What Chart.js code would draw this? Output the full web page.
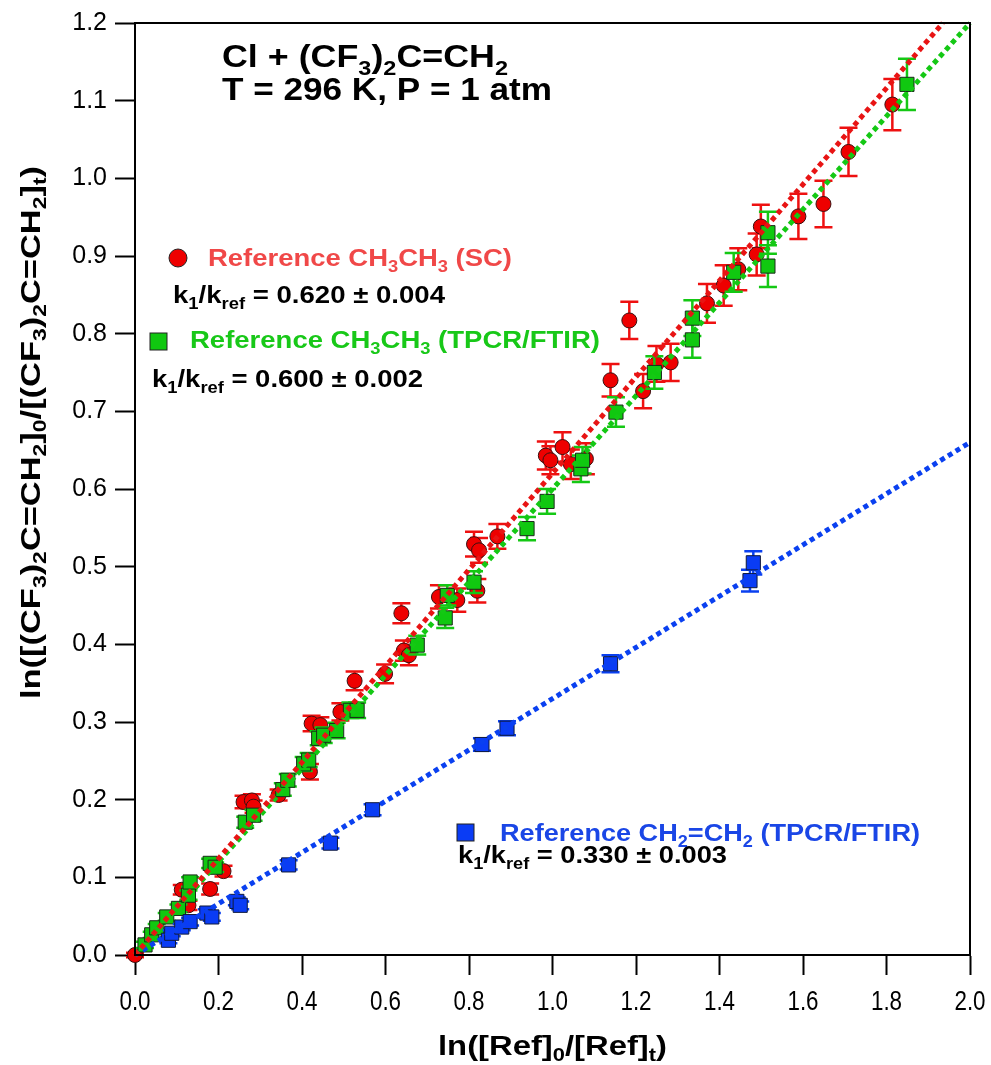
<!DOCTYPE html>
<html>
<head>
<meta charset="utf-8">
<script src="https://cdn.jsdelivr.net/npm/chart.js@4.4.0/dist/chart.umd.min.js"></script>
<style>
  body { margin: 0; background: #fff; }
  #wrap { width: 991px; height: 1065px; }
</style>
</head>
<body>
<div id="wrap"><canvas id="myChart"></canvas></div>
<script>
// Reference CH3CH3 (SC)
let redX = [0.000, 0.112, 0.128, 0.180, 0.212, 0.260, 0.280, 0.284, 0.344, 0.419, 0.423, 0.444, 0.492, 0.526, 0.599,
    0.638, 0.644, 0.656, 0.728, 0.772, 0.812, 0.824, 0.820, 0.868, 0.984, 0.995, 1.024, 1.044, 1.080, 1.139,
    1.184, 1.217, 1.249, 1.283, 1.370, 1.410, 1.445, 1.489, 1.499, 1.589, 1.649, 1.709, 1.814]
let redY = [0.000, 0.084, 0.064, 0.085, 0.108, 0.197, 0.199, 0.191, 0.206, 0.236, 0.298, 0.296, 0.313, 0.353, 0.362,
    0.440, 0.392, 0.386, 0.461, 0.457, 0.529, 0.521, 0.469, 0.539, 0.643, 0.637, 0.654, 0.632, 0.639, 0.740,
    0.817, 0.726, 0.761, 0.763, 0.839, 0.862, 0.883, 0.902, 0.938, 0.951, 0.967, 1.034, 1.095]
let redErr = [0.003, 0.006, 0.006, 0.007, 0.007, 0.008, 0.008, 0.008, 0.007, 0.010, 0.010, 0.010, 0.011, 0.012, 0.012,
    0.013, 0.013, 0.013, 0.015, 0.015, 0.016, 0.016, 0.015, 0.016, 0.018, 0.018, 0.019, 0.019, 0.020, 0.021,
    0.024, 0.022, 0.023, 0.024, 0.025, 0.026, 0.027, 0.027, 0.028, 0.029, 0.030, 0.031, 0.033]

// Reference CH3CH3 (TPCR/FTIR)
let greenX = [0.024, 0.040, 0.052, 0.076, 0.104, 0.128, 0.132, 0.180, 0.192, 0.264, 0.284, 0.354, 0.366, 0.404, 0.416,
    0.440, 0.452, 0.483, 0.516, 0.532, 0.676, 0.743, 0.748, 0.812, 0.939, 0.987, 1.068, 1.072, 1.152, 1.244,
    1.335, 1.335, 1.434, 1.516, 1.516, 1.849]
let greenY = [0.013, 0.026, 0.035, 0.049, 0.060, 0.077, 0.094, 0.118, 0.113, 0.171, 0.180, 0.213, 0.225, 0.246, 0.251,
    0.279, 0.283, 0.289, 0.315, 0.315, 0.399, 0.434, 0.463, 0.480, 0.549, 0.584, 0.626, 0.637, 0.699, 0.750,
    0.792, 0.820, 0.879, 0.887, 0.930, 1.121]
let greenErr = [0.004, 0.004, 0.005, 0.005, 0.005, 0.006, 0.006, 0.006, 0.006, 0.007, 0.007, 0.008, 0.008, 0.009, 0.009,
    0.009, 0.010, 0.010, 0.010, 0.010, 0.012, 0.013, 0.013, 0.014, 0.015, 0.016, 0.017, 0.017, 0.019, 0.021,
    0.023, 0.023, 0.025, 0.027, 0.027, 0.033]

// Reference CH2=CH2 (TPCR/FTIR)
let blueX = [0.080, 0.088, 0.112, 0.132, 0.172, 0.184, 0.244, 0.252, 0.368, 0.468, 0.569, 0.831, 0.891, 1.139, 1.473, 1.481]
let blueY = [0.019, 0.028, 0.036, 0.043, 0.054, 0.049, 0.069, 0.064, 0.116, 0.144, 0.187, 0.271, 0.292, 0.375, 0.482, 0.505]
let blueErr = [0.004, 0.004, 0.004, 0.005, 0.005, 0.005, 0.005, 0.005, 0.006, 0.007, 0.007, 0.008, 0.009, 0.011, 0.014, 0.015]

// fitted lines (end points)
let redFitX = [0, 1.935]
let redFitY = [0, 1.2]
let greenFitX = [0, 2.0]
let greenFitY = [0, 1.2]
let blueFitX = [0, 2.0]
let blueFitY = [0, 0.66]

let corVermelho = '#ee0000'
let corVerde = '#10c810'
let corAzul = '#0a3cf5'
let fonte = "'Liberation Sans', Arial, sans-serif"

function pontos(xs, ys) {
    return xs.map((x, i) => ({ x: x, y: ys[i] }))
}

function linhaFit(xs, ys, cor) {
    return {
        type: 'line',
        data: pontos(xs, ys),
        borderColor: cor,
        borderWidth: 5,
        borderDash: [5, 4],
        borderCapStyle: 'butt',
        pointRadius: 0,
        fill: false,
        tension: 0,
        order: 0
    }
}

// texto com subscritos: "CH_{3}"
function partes(txt) {
    let out = []
    let re = /_\{([^}]*)\}/g
    let last = 0, m
    while ((m = re.exec(txt)) !== null) {
        if (m.index > last) out.push([txt.slice(last, m.index), false])
        out.push([m[1], true])
        last = re.lastIndex
    }
    if (last < txt.length) out.push([txt.slice(last), false])
    return out
}

function textoRico(ctx, txt, x, y, size, largura, cor, rodar) {
    let ps = partes(txt)
    let sub = Math.round(size * 0.66)
    let w = 0
    ps.forEach(p => {
        ctx.font = 'bold ' + (p[1] ? sub : size) + 'px ' + fonte
        w += ctx.measureText(p[0]).width
    })
    ctx.save()
    ctx.translate(x, y)
    if (rodar) ctx.rotate(-Math.PI / 2)
    ctx.scale(largura / w, 1)
    ctx.fillStyle = cor
    ctx.textBaseline = 'alphabetic'
    ctx.textAlign = 'left'
    let cx = 0
    ps.forEach(p => {
        ctx.font = 'bold ' + (p[1] ? sub : size) + 'px ' + fonte
        ctx.fillText(p[0], cx, p[1] ? size * 0.24 : 0)
        cx += ctx.measureText(p[0]).width
    })
    ctx.restore()
}

let textos = [
    ['Cl + (CF_{3})_{2}C=CH_{2}', 222, 67, 32, 286, '#000'],
    ['T = 296 K, P = 1 atm', 222, 100, 32, 330, '#000'],
    ['Reference CH_{3}CH_{3} (SC)', 208, 266, 24, 304, '#f04848'],
    ['k_{1}/k_{ref} = 0.620 \u00b1 0.004', 173, 303, 24, 272, '#000'],
    ['Reference CH_{3}CH_{3} (TPCR/FTIR)', 190, 348, 24, 410, '#18c818'],
    ['k_{1}/k_{ref} = 0.600 \u00b1 0.002', 152, 387, 24, 271, '#000'],
    ['Reference CH_{2}=CH_{2} (TPCR/FTIR)', 500, 841, 24, 420, '#1a46e6'],
    ['k_{1}/k_{ref} = 0.330 \u00b1 0.003', 458, 863, 24, 269, '#000'],
    ['ln([Ref]_{0}/[Ref]_{t})', 438, 1055, 27, 229, '#000']
]

const barrasErro = {
    id: 'barrasErro',
    beforeDatasetDraw(chart, args) {
        let ds = chart.data.datasets[args.index]
        if (!ds.erros) return
        let ctx = chart.ctx
        let sx = chart.scales.x, sy = chart.scales.y
        ctx.save()
        ctx.strokeStyle = ds.corErro
        ctx.lineWidth = 2.5
        ds.data.forEach((p, i) => {
            let px = sx.getPixelForValue(p.x)
            let y1 = sy.getPixelForValue(p.y + ds.erros[i])
            let y2 = sy.getPixelForValue(p.y - ds.erros[i])
            ctx.beginPath()
            ctx.moveTo(px, y1); ctx.lineTo(px, y2)
            ctx.moveTo(px - 9, y1); ctx.lineTo(px + 9, y1)
            ctx.moveTo(px - 9, y2); ctx.lineTo(px + 9, y2)
            ctx.stroke()
        })
        ctx.restore()
    }
}

const anotacoes = {
    id: 'anotacoes',
    afterDraw(chart) {
        let ctx = chart.ctx
        let a = chart.chartArea
        ctx.save()
        ctx.strokeStyle = '#000'
        ctx.lineWidth = 2
        ctx.strokeRect(a.left, a.top, a.right - a.left, a.bottom - a.top)

        // rótulos do eixo x, um pouco estreitos como no original
        let sx = chart.scales.x
        ctx.fillStyle = '#000'
        ctx.font = '28px ' + fonte
        ctx.textAlign = 'center'
        ctx.textBaseline = 'middle'
        sx.ticks.forEach(t => {
            ctx.save()
            ctx.translate(sx.getPixelForValue(t.value), a.bottom + 47)
            ctx.scale(0.8, 1)
            ctx.fillText(t.value.toFixed(1), 0, 0)
            ctx.restore()
        })

        // marcadores da legenda
        ctx.lineWidth = 1
        ctx.strokeStyle = '#222'
        ctx.fillStyle = corVermelho
        ctx.beginPath(); ctx.arc(178, 258, 9, 0, Math.PI * 2); ctx.fill(); ctx.stroke()
        ctx.fillStyle = corVerde
        ctx.fillRect(150, 333, 17, 17); ctx.strokeRect(150, 333, 17, 17)
        ctx.fillStyle = corAzul
        ctx.fillRect(457, 824, 17, 17); ctx.strokeRect(457, 824, 17, 17)
        ctx.restore()

        textos.forEach(t => textoRico(ctx, t[0], t[1], t[2], t[3], t[4], t[5], false))
        textoRico(ctx, 'ln([(CF_{3})_{2}C=CH_{2}]_{0}/[(CF_{3})_{2}C=CH_{2}]_{t})', 40, 699, 27, 533, '#000', true)
    }
}

const ctx = document.getElementById('myChart').getContext('2d')
let myChart = new Chart(ctx, {
    type: 'scatter',
    data: {
        datasets: [
            linhaFit(redFitX, redFitY, '#e81414'),
            linhaFit(greenFitX, greenFitY, '#14c814'),
            linhaFit(blueFitX, blueFitY, '#0a40f0'),
            {
                label: 'Reference CH3CH3 (SC)',
                data: pontos(redX, redY),
                erros: redErr,
                corErro: '#ee1010',
                pointStyle: 'circle',
                pointRadius: 7.5,
                backgroundColor: corVermelho,
                borderColor: '#3a1010',
                borderWidth: 1,
                order: 3
            },
            {
                label: 'Reference CH3CH3 (TPCR/FTIR)',
                data: pontos(greenX, greenY),
                erros: greenErr,
                corErro: '#14c814',
                pointStyle: 'rect',
                pointRadius: 10,
                backgroundColor: corVerde,
                borderColor: '#1a2a1a',
                borderWidth: 1,
                order: 2
            },
            {
                label: 'Reference CH2=CH2 (TPCR/FTIR)',
                data: pontos(blueX, blueY),
                erros: blueErr,
                corErro: '#0a40f0',
                pointStyle: 'rect',
                pointRadius: 10,
                backgroundColor: corAzul,
                borderColor: '#101a3a',
                borderWidth: 1,
                order: 1
            }
        ]
    },
    options: {
        responsive: true,
        maintainAspectRatio: false,
        animation: false,
        clip: false,
        layout: { padding: { left: 0, top: 23, right: 21, bottom: 0 } },
        plugins: {
            legend: { display: false },
            tooltip: { enabled: false }
        },
        scales: {
            x: {
                type: 'linear',
                min: 0,
                max: 2,
                afterFit: s => { s.height = 110; s.paddingLeft = 0; s.paddingRight = 0 },
                ticks: {
                    stepSize: 0.2,
                    display: false
                },
                grid: { drawOnChartArea: false, tickLength: 20, tickWidth: 2, color: '#000' },
                border: { color: '#000', width: 2 }
            },
            y: {
                type: 'linear',
                min: 0,
                max: 1.2,
                afterFit: s => { s.width = 135; s.paddingTop = 0; s.paddingBottom = 0 },
                ticks: {
                    stepSize: 0.1,
                    padding: 8,
                    color: '#000',
                    font: { family: fonte, size: 25 },
                    callback: v => v.toFixed(1)
                },
                grid: { drawOnChartArea: false, tickLength: 20, tickWidth: 2, color: '#000' },
                border: { color: '#000', width: 2 }
            }
        }
    },
    plugins: [barrasErro, anotacoes]
})
</script>
</body>
</html>
